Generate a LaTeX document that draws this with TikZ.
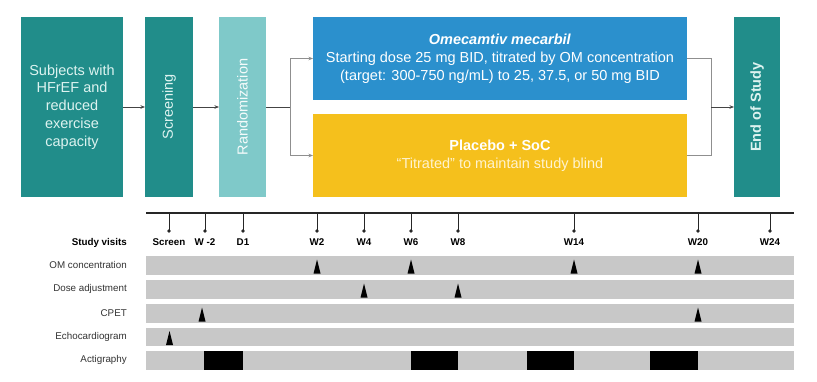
\documentclass[tikz,border=0pt]{standalone}
\usepackage{fontspec}
\setmainfont{Liberation Sans}
\usetikzlibrary{arrows.meta}
\definecolor{tealA}{HTML}{218D8A}
\definecolor{tealL}{HTML}{7FC9C9}
\definecolor{tealtxt}{HTML}{DDF3F0}
\definecolor{blueA}{HTML}{2B90CD}
\definecolor{goldA}{HTML}{F5C01C}
\definecolor{goldtxt}{HTML}{FFF3CF}
\definecolor{barg}{HTML}{C8C8C8}
\definecolor{lineg}{HTML}{444444}
\begin{document}
\begin{tikzpicture}[x=1pt,y=-1pt,
  box/.style={draw=none, outer sep=0pt, inner sep=2pt, align=center,
    font=\fontsize{14.5}{17.8}\selectfont, text=white},
  vtext/.style={rotate=90, font=\fontsize{14.5}{17.8}\selectfont, inner sep=0pt},
  conn/.style={draw=lineg, line width=0.6pt},
  arr/.style={conn, -{Stealth[length=4.5pt,width=3.5pt]}},
  vis/.style={font=\fontsize{9.8}{11}\selectfont\bfseries, inner sep=0pt},
  rowl/.style={font=\fontsize{9.8}{11}\selectfont, text=black!80, anchor=east, inner sep=0pt},
]
\useasboundingbox[fill=white] (0,0) rectangle (817,381);

% ---- top flow ----
\node[box, fill=tealA, text=tealtxt, minimum width=102pt, minimum height=180pt] (subj) at (72,107)
  {Subjects with\\HFrEF and\\reduced\\exercise\\capacity};
\node[box, fill=tealA, minimum width=48pt, minimum height=180pt] (scr) at (169,107) {};
\node[vtext, text=tealtxt] (scrt) at (scr.center) {Screening};
\node[box, fill=tealL, minimum width=47pt, minimum height=180pt] (rnd) at (242.5,107) {};
\node[vtext, text=white!92!tealL] (rndt) at (rnd.center) {Randomization};
\node[box, fill=blueA, minimum width=374pt, minimum height=83pt] (om) at (500,58.5)
  {\textbf{\textit{Omecamtiv mecarbil}}\\Starting dose 25 mg BID, titrated by OM concentration\\(target: 300-750 ng/mL) to 25, 37.5, or 50 mg BID};
\node[box, fill=goldA, minimum width=374pt, minimum height=83pt] (pl) at (500,155.5)
  {\textbf{Placebo + SoC}\\\textcolor{goldtxt}{``Titrated'' to maintain study blind}};
\node[box, fill=tealA, minimum width=46pt, minimum height=180pt] (eos) at (757,107) {};
\node[vtext, text=tealtxt, font=\fontsize{14.5}{17.8}\selectfont\bfseries] (eost) at (eos.center) {End of Study};

\coordinate (sp) at (290,107);
\coordinate (jn) at (711,107);
\draw[arr] (subj.east) -- (scr.west);
\draw[arr] (scr.east) -- (rnd.west);
\draw[conn] (rnd.east) -- (sp);
\draw[arr, draw=lineg!60] (sp) |- (om.west);
\draw[arr, draw=lineg!60] (sp) |- (pl.west);
\draw[conn, draw=lineg!60] (om.east) -| (jn);
\draw[conn, draw=lineg!60] (pl.east) -| (jn);
\draw[arr] (jn) -- (eos.west);

% ---- timeline ----
\coordinate (tlA) at (146,213);
\coordinate (tlB) at (794,213);
\draw[line width=1.3pt, draw=black!85] (tlA) -- (tlB);
\foreach \x/\lab/\nm in {169/Screen/a, 205/W -2/b, 243/D1/c, 317/W2/d, 364/W4/e, 411/W6/f, 458/W8/g, 574/W14/h, 698/W20/i, 770/W24/j}{
  \draw[line width=1pt, draw=black!85] (\x,213) -- (\x,231);
  \fill[black!85] (\x,231) circle (1.9pt);
  \node[vis] (v\nm) at (\x,242.5) {\lab};
}
\node[vis, anchor=east] (sv) at (127,242.5) {Study visits};

% ---- rows ----
\foreach \t/\lab/\nm in {256/OM concentration/r1, 280/Dose adjustment/r2, 304/CPET/r3, 327.5/Echocardiogram/r4, 351/Actigraphy/r5}{
  \fill[barg] (146,\t) rectangle (794,\t+18.5);
  \node[rowl] (\nm) at (127,\t+9.25) {\lab};
}
% triangles
\foreach \x/\t in {317/256, 411/256, 574/256, 698/256, 364/280, 458/280, 202/304, 698/304, 169.5/327.5}{
  \fill[black] (\x-3.5,\t+17.5) -- (\x,\t+3.5) -- (\x+3.5,\t+17.5) -- cycle;
}
% actigraphy blocks
\foreach \a/\b in {204/243, 411/458, 527/574, 650/698}{
  \fill[black] (\a,351) rectangle (\b,369.5);
}
\end{tikzpicture}
\end{document}
